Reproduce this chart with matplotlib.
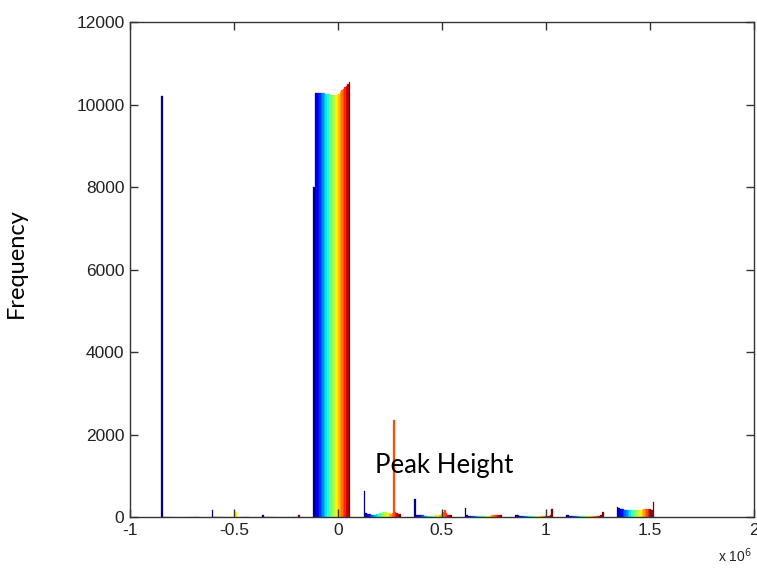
import numpy as np
import matplotlib.pyplot as plt

# bin centres of the 10 histogram groups (x 1e6)
bin_centers = [-0.76, -0.517, -0.273, -0.03, 0.213, 0.457, 0.70, 0.943, 1.187, 1.43]

# counts per bin, one value per series (24 series, jet colours)
bin0 = [10200, 0, 0, 0, 0, 0, 0, 0, 0, 0, 0, 0, 0, 0, 0, 0, 0, 0, 0, 0, 0, 0, 0, 0]
bin1 = [170, 0, 0, 0, 0, 0, 0, 0, 0, 0, 0, 0, 0, 0, 0, 130, 0, 0, 0, 0, 0, 0, 0, 0]
bin2 = [40, 0, 0, 0, 0, 0, 0, 0, 0, 0, 0, 0, 0, 0, 0, 0, 0, 0, 0, 0, 0, 0, 0, 40]
bin3 = [8000, 10280, 10290, 10290, 10280, 10280, 10270, 10270, 10260, 10260, 10250, 10240,
        10240, 10230, 10220, 10230, 10260, 10300, 10340, 10380, 10420, 10460, 10500, 10545]
bin4 = [630, 90, 80, 70, 70, 60, 60, 60, 70, 80, 90, 100, 110, 130, 120, 100, 90, 80, 90, 2350,
        110, 90, 80, 70]
bin5 = [440, 60, 50, 40, 40, 40, 30, 30, 30, 30, 30, 30, 30, 40, 40, 50, 60, 80, 120, 160,
        90, 60, 50, 40]
bin6 = [220, 40, 35, 30, 30, 30, 30, 30, 30, 30, 30, 30, 30, 30, 30, 30, 35, 40, 40, 40,
        40, 40, 40, 60]
bin7 = [60, 40, 30, 30, 30, 30, 30, 30, 30, 30, 30, 30, 30, 30, 30, 30, 30, 30, 30, 30,
        30, 30, 40, 190]
bin8 = [50, 40, 30, 30, 30, 30, 30, 30, 30, 30, 30, 30, 30, 30, 30, 30, 30, 30, 30, 30,
        30, 30, 40, 120]
bin9 = [240, 220, 200, 190, 190, 180, 180, 180, 180, 180, 180, 180, 180, 180, 180, 180,
        180, 190, 190, 200, 200, 190, 180, 360]

counts = np.array([bin0, bin1, bin2, bin3, bin4, bin5, bin6, bin7, bin8, bin9])
n_series = counts.shape[1]
centers = np.array(bin_centers) * 1e6

group_w = 0.18e6
bar_w = group_w / n_series
colors = plt.cm.jet(np.linspace(0, 1, n_series))

fig = plt.figure(figsize=(7.57, 5.73), dpi=100)
ax = fig.add_axes([0.1717, 0.0977, 0.8243, 0.8639])

for i in range(n_series):
    x = centers - group_w / 2 + (i + 0.5) * bar_w
    ax.bar(x, counts[:, i], width=bar_w, color=colors[i], edgecolor=colors[i], linewidth=0.2)

ax.set_xlim(-1e6, 2e6)
ax.set_ylim(0, 12000)
ax.set_xticks(np.arange(-1, 2.01, 0.5) * 1e6)
ax.set_xticklabels(['-1', '-0.5', '0', '0.5', '1', '1.5', '2'])
ax.set_yticks(np.arange(0, 12001, 2000))
ax.set_yticklabels([str(v) for v in range(0, 12001, 2000)])

for s in ax.spines.values():
    s.set_color('#333333')
    s.set_linewidth(1.0)
ax.tick_params(direction='in', length=6, width=1, color='#333333', top=True, right=True,
               labelsize=12.5, labelcolor='#222222', pad=4)
for lab in ax.get_xticklabels() + ax.get_yticklabels():
    lab.set_family('Liberation Sans')

ax.text(0.997, -0.06, r'x 10$^6$', transform=ax.transAxes, ha='right', va='top',
        fontsize=10, family='Liberation Sans', color='#222222')

ax.text(0.178e6, 1260, 'Peak Height', fontsize=18.5, family='Lato', va='center', ha='left')
fig.text(0.022, 0.54, 'Frequency', rotation=90, fontsize=17, family='Lato', va='center', ha='center')

fig.savefig('out.png', dpi=100, facecolor='white')
